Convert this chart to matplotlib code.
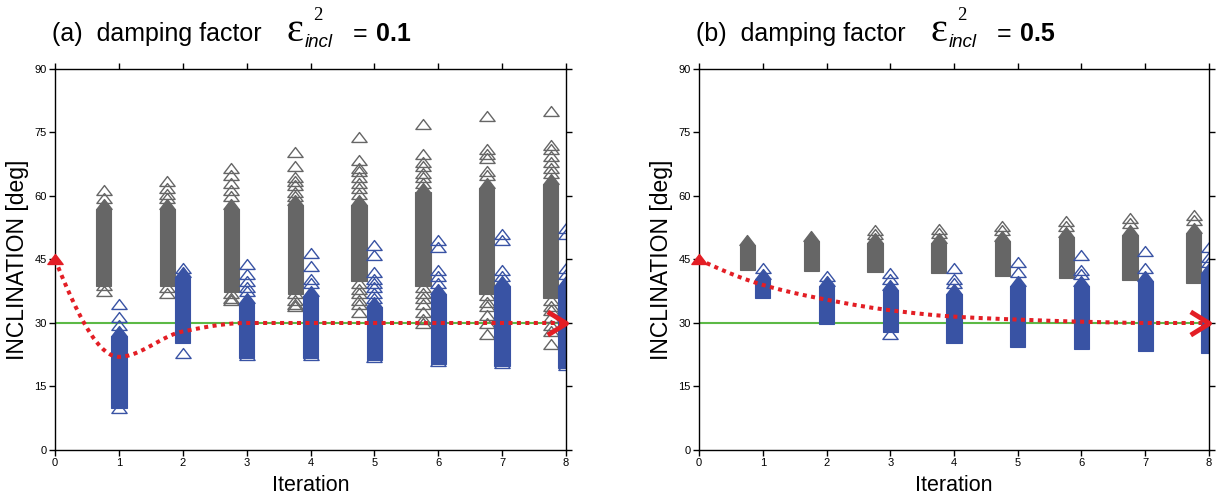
"""Inclination estimates per iteration for two damping factors."""

import matplotlib

matplotlib.use("Agg")
import matplotlib.pyplot as plt
import numpy as np
from matplotlib.path import Path

# iterations at which the updated (blue) estimates are plotted
iterations = [1, 2, 3, 4, 5, 6, 7, 8]

# mean inclination after each iteration (iteration 0 = starting model)
mean_a = [45, 22, 28, 30, 30, 30, 30, 30, 30]
mean_b = [45, 39, 35.5, 33, 31.5, 30.8, 30.3, 30, 30]
true_incl = 30

# ---- (a) damping 0.1 ----
# dense part of each column as (low, high), scattered values listed separately
gray_core_a = [(40, 58), (40, 58), (38.5, 58), (38, 59),
               (41, 59), (40, 62), (38, 63), (37, 64)]
gray_pts_a = [
    [61.5, 59.5, 39, 37.5],
    [63.5, 62, 60.5, 59.5, 38.5, 37],
    [66.5, 65, 63, 61.5, 60, 37, 36, 35.5],
    [70.5, 67, 64.5, 63.5, 62.5, 61, 60, 37, 35.5, 34.5, 34],
    [74, 68.5, 66.5, 66, 64.5, 63, 62, 60.5, 39.5, 38, 37, 35.5, 34.5, 32.5],
    [77, 70, 68, 67, 65.5, 64.5, 63, 38.5, 37, 36, 34.5, 32.5, 31, 30],
    [79, 71, 70, 69, 66, 65, 36.5, 35, 34, 32, 30, 27.5],
    [80, 72, 71, 69.5, 68, 66.5, 65.5, 35.5, 34, 33, 31.5, 29.5, 28, 25],
]
blue_core_a = [(11, 28), (26.5, 42), (23, 36), (23, 37.5),
               (22.5, 35), (21.5, 38), (21, 40), (20.5, 40)]
blue_pts_a = [
    [34.5, 31.5, 29.5, 10],
    [43, 23],
    [44, 41.5, 40, 38.5, 37.5, 22.5],
    [46.5, 43.5, 40.5, 39.5, 22.5],
    [48.5, 46, 42, 40.5, 39.5, 38.5, 37, 36, 22],
    [49.5, 48, 42.5, 41, 39.5, 21],
    [51, 49.5, 42.5, 41, 20.5],
    [52.5, 51, 43, 41.5, 20],
]

# ---- (b) damping 0.5 ----
gray_core_b = [(43.6, 49.5), (43.4, 50.5), (43.1, 50), (43, 50),
               (42.3, 50.5), (41.8, 51.5), (41.4, 52), (40.6, 52.5)]
gray_pts_b = [
    [],
    [],
    [52, 51],
    [52.3, 51.3],
    [53, 52],
    [54, 53],
    [54.8, 53.7],
    [55.5, 54.3],
]
blue_core_b = [(37, 41.5), (31, 40), (29, 39), (26.5, 38),
               (25.5, 40), (25, 40), (24.5, 41), (24, 43)]
blue_pts_b = [
    [43],
    [41],
    [41.7, 40.5, 27.5],
    [43, 40.5, 39.5],
    [44.5, 42],
    [46, 42.5, 41.5],
    [47, 43],
    [48, 45.5, 44.5],
]

GRAY = "#666666"
BLUE = "#3953a4"
RED = "#e31e25"
GREEN = "#5cb946"

W, H, DPI = 12.18, 4.97, 100
GRAY_SHIFT = -0.24       # previous-model values sit just left of each iteration
MS = 11                  # triangle width in points
TRI = Path([(-1, -0.65), (1, -0.65), (0, 0.65), (-1, -0.65)],
           [Path.MOVETO, Path.LINETO, Path.LINETO, Path.CLOSEPOLY])
CHEVRON = Path([(-1, 0.62), (0, 0), (-1, -0.62)],
               [Path.MOVETO, Path.LINETO, Path.LINETO])

plt.rcParams["font.family"] = ["Liberation Sans", "DejaVu Sans"]


def pchip(x, y, n=40):
    """Shape-preserving cubic through the mean values, for a smooth line."""
    x = np.asarray(x, float)
    y = np.asarray(y, float)
    h = np.diff(x)
    d = np.diff(y) / h
    m = np.zeros_like(y)
    for i in range(1, len(y) - 1):
        if d[i - 1] * d[i] > 0:
            m[i] = 2 / (1 / d[i - 1] + 1 / d[i])
    m[0] = ((2 * h[0] + h[1]) * d[0] - h[0] * d[1]) / (h[0] + h[1])
    if m[0] * d[0] <= 0:
        m[0] = 0
    m[-1] = 0 if d[-1] == 0 else d[-1]
    xs, ys = [], []
    for i in range(len(h)):
        t = np.linspace(0, 1, n, endpoint=(i == len(h) - 1))
        h00 = 2 * t**3 - 3 * t**2 + 1
        h10 = t**3 - 2 * t**2 + t
        h01 = -2 * t**3 + 3 * t**2
        h11 = t**3 - t**2
        xs.append(x[i] + t * h[i])
        ys.append(h00 * y[i] + h10 * h[i] * m[i] + h01 * y[i + 1] + h11 * h[i] * m[i + 1])
    return np.concatenate(xs), np.concatenate(ys)


def draw_columns(ax, xs, cores, pts, color):
    # marker size in data units, so a dense stack reads as one solid column
    px_x = ax.get_position().width * W * DPI / 8
    px_y = ax.get_position().height * H * DPI / 90
    w_px = MS * DPI / 72
    bw = w_px / px_x
    th = 0.65 * w_px / px_y
    for x, (lo, hi), extra in zip(xs, cores, pts):
        ax.bar(x, hi - lo, bottom=lo - th / 2, width=bw, color=color,
               edgecolor=color, linewidth=0.8, zorder=2)
        ax.plot([x], [hi], ls="none", marker=TRI, ms=MS, color=color,
                mew=1, zorder=2)
        ax.plot([x] * len(extra), extra, ls="none", marker=TRI, ms=MS,
                mfc="none", mec=color, mew=1, zorder=2)


def panel(fig, rect, tag, damping, mean, gray_core, gray_pts, blue_core, blue_pts):
    ax = fig.add_axes(rect)
    ax.set_xlim(0, 8)
    ax.set_ylim(0, 90)
    ax.set_xticks(range(0, 9))
    ax.set_yticks(range(0, 91, 15))
    ax.tick_params(direction="out", length=4, width=1, labelsize=8,
                   top=True, right=True, pad=2)
    for s in ax.spines.values():
        s.set_linewidth(1)

    ax.axhline(true_incl, color=GREEN, lw=1.5, zorder=1)
    gx = [i + GRAY_SHIFT for i in iterations]
    draw_columns(ax, gx, gray_core, gray_pts, GRAY)
    draw_columns(ax, iterations, blue_core, blue_pts, BLUE)

    sx, sy = pchip(range(len(mean)), mean)
    ax.plot(sx, sy, color=RED, lw=2.9, ls=(0, (1, 1.1)), zorder=3)
    ax.plot([0], [mean[0]], ls="none", marker=TRI, ms=MS, color=RED,
            clip_on=False, zorder=4)
    ax.plot([len(mean) - 1], [mean[-1]], ls="none", marker=CHEVRON, ms=27,
            mfc="none", mec=RED, mew=3.5, clip_on=False, zorder=4)

    ax.set_xlabel("Iteration", fontsize=15.5, labelpad=5)
    ax.set_ylabel("INCLINATION [deg]", fontsize=16.5, labelpad=4)

    # title pieces placed in pixels from the axes' left edge
    L = rect[0] * W * DPI

    def put(dx, base, s, **kw):
        fig.text((L + dx) / (W * DPI), 1 - base / (H * DPI), s, va="baseline", **kw)

    put(-3, 41, f"({tag})  damping factor", fontsize=18)
    put(231, 41, "\u03b5", fontsize=29, family="Liberation Serif")
    put(258, 20, "2", fontsize=13.5, family="Liberation Serif")
    put(250, 47, "incl", fontsize=13.5, style="italic")
    put(298, 41, "=", fontsize=18)
    put(321, 41, damping, fontsize=18, weight="bold")
    return ax


fig = plt.figure(figsize=(W, H), dpi=DPI)
panel(fig, [0.0452, 0.0946, 0.4195, 0.7666], "a", "0.1",
      mean_a, gray_core_a, gray_pts_a, blue_core_a, blue_pts_a)
panel(fig, [0.5739, 0.0946, 0.4187, 0.7666], "b", "0.5",
      mean_b, gray_core_b, gray_pts_b, blue_core_b, blue_pts_b)
fig.savefig("out.png", dpi=DPI)
